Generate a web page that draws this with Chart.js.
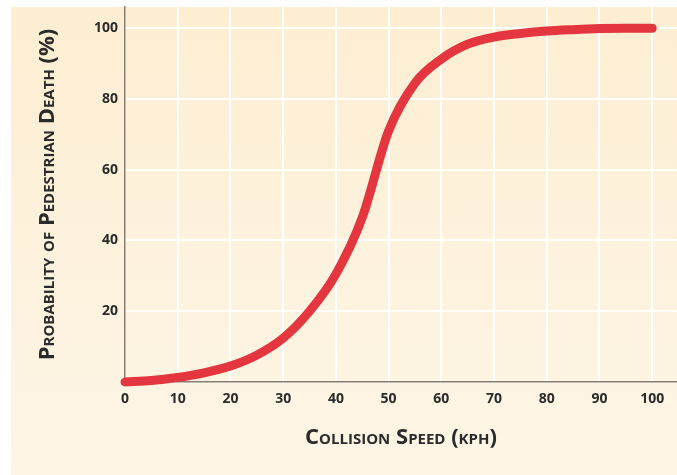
<!DOCTYPE html>
<html>
<head>
<meta charset="utf-8">
<script src="https://cdn.jsdelivr.net/npm/chart.js@4"></script>
<style>
  html, body { margin: 0; padding: 0; background: #fff; }
  #wrap { width: 677px; height: 475px; }
</style>
</head>
<body>
<div id="wrap"><canvas id="chart"></canvas></div>
<script>
// Data
const speeds = [0, 5, 10, 15, 20, 25, 30, 35, 40, 45, 50, 55, 60, 65, 70, 75, 80, 85, 90, 95, 100];
const deathProb = [0, 0.4, 1.3, 2.6, 4.5, 7.6, 12.4, 20, 30.5, 46.5, 71, 84.5, 91.3, 95.5, 97.5, 98.5, 99.2, 99.6, 99.9, 100, 100];
const xTickLabels = [0, 10, 20, 30, 40, 50, 60, 70, 80, 90, 100];
const yTickLabels = [20, 40, 60, 80, 100];

const points = speeds.map((s, i) => ({ x: s, y: deathProb[i] }));

// Cream panel behind the plot
const panelBg = {
  id: "panelBg",
  beforeDraw(chart) {
    const ctx = chart.ctx;
    ctx.save();
    ctx.fillStyle = "#ffffff";
    ctx.fillRect(0, 0, chart.width, chart.height);
    const g = ctx.createLinearGradient(0, 7, 0, chart.height);
    g.addColorStop(0, "#fdeed2");
    g.addColorStop(1, "#fdf5e6");
    ctx.fillStyle = g;
    ctx.fillRect(11, 7, chart.width - 11, chart.height - 7);
    ctx.restore();
  }
};

const tickFont = { family: "'Open Sans', sans-serif", size: 14, weight: "bold" };
const titleFont = { family: "'Open Sans', sans-serif", size: 22, weight: "small-caps bold" };

new Chart(document.getElementById("chart"), {
  type: "line",
  data: {
    datasets: [{
      data: points,
      borderColor: "#e3363f",
      borderWidth: 9,
      borderCapStyle: "round",
      borderJoinStyle: "round",
      pointRadius: 0,
      cubicInterpolationMode: "monotone",
      fill: false,
      clip: false
    }]
  },
  options: {
    responsive: true,
    maintainAspectRatio: false,
    animation: false,
    layout: { padding: { top: 7, left: 0, right: 0, bottom: 0 } },
    plugins: { legend: { display: false }, tooltip: { enabled: false } },
    scales: {
      x: {
        type: "linear",
        min: 0,
        max: 104.7,
        afterBuildTicks: (scale) => {
          scale.ticks = xTickLabels.map(v => ({ value: v }));
        },
        afterFit: (scale) => {
          scale.height = 93;
          scale.paddingLeft = 0;
          scale.paddingRight = 0;
        },
        grid: { color: "#ffffff", lineWidth: 2, drawTicks: false },
        border: { color: "#857b6e", width: 1.5 },
        ticks: { color: "#2b2b2b", font: tickFont, padding: 9, maxRotation: 0 },
        title: {
          display: true,
          text: "Collision Speed (kph)",
          color: "#2b2b2b",
          font: titleFont,
          padding: { top: 0, bottom: 24 }
        }
      },
      y: {
        min: 0,
        max: 106,
        afterBuildTicks: (scale) => {
          scale.ticks = [0].concat(yTickLabels).map(v => ({ value: v }));
        },
        afterFit: (scale) => {
          scale.width = 125;
          scale.paddingTop = 0;
          scale.paddingBottom = 0;
        },
        grid: { color: "#ffffff", lineWidth: 2, drawTicks: false },
        border: { color: "#857b6e", width: 1.5 },
        ticks: {
          color: "#2b2b2b",
          font: tickFont,
          padding: 7,
          callback: (v) => (v === 0 ? "" : v)
        },
        title: {
          display: true,
          text: "Probability of Pedestrian Death (%)",
          color: "#2b2b2b",
          font: titleFont,
          padding: { top: 35, bottom: 0 }
        }
      }
    }
  },
  plugins: [panelBg]
});
</script>
</body>
</html>
